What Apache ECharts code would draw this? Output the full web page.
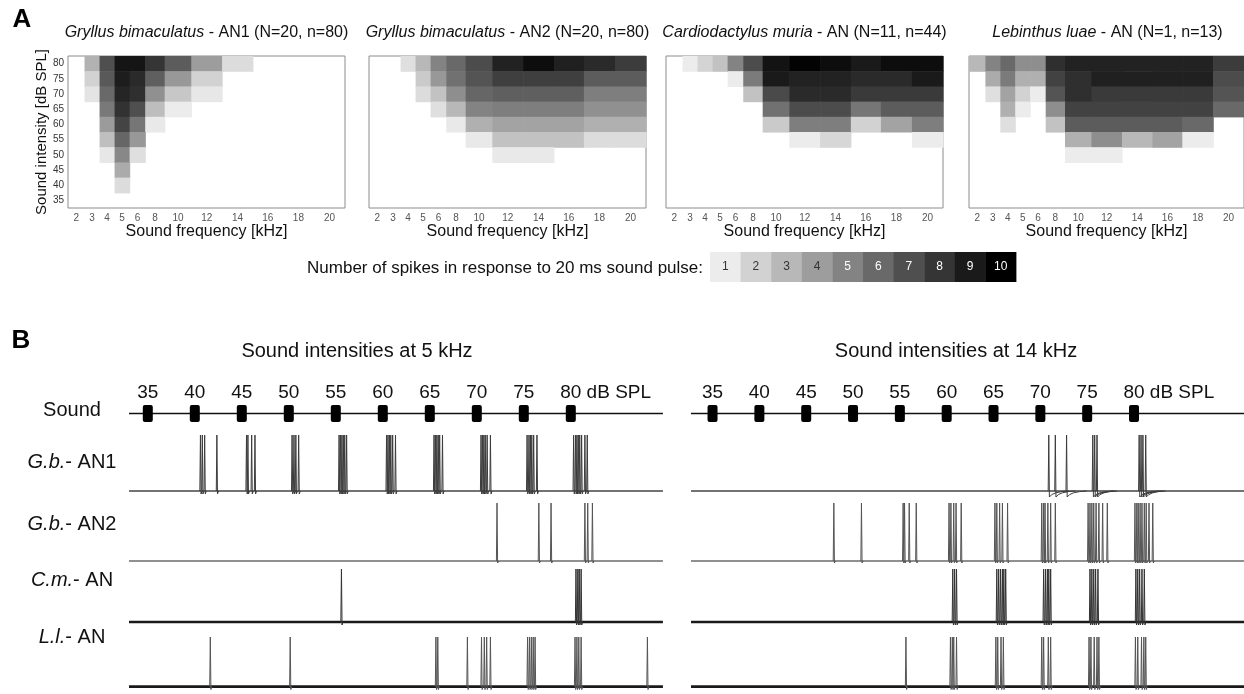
<!DOCTYPE html>
<html><head><meta charset="utf-8">
<script src="https://cdn.jsdelivr.net/npm/echarts@6/dist/echarts.min.js"></script>
<style>html,body{margin:0;padding:0;background:#fff}#c{width:1244px;height:694px}</style>
</head><body><div id="c"></div><script>
// ---------------- DATA ----------------
const freqs = [2,3,4,5,6,8,10,12,14,16,18,20];
const intensities = [35,40,45,50,55,60,65,70,75,80];
// rows from 80 dB (top) down to 35 dB; columns follow freqs
const gbAN1 = [
 [0,3.2,7.0,9.2,9.2,8.0,6.5,4.0,1.6,0,0,0],
 [0,2.0,6.6,8.9,8.4,6.4,4.2,2.0,0,0,0,0],
 [0,1.3,6.0,8.6,8.2,4.5,2.4,1.2,0,0,0,0],
 [0,0,5.4,8.1,7.0,2.8,1.0,0,0,0,0,0],
 [0,0,4.1,7.4,5.5,1.1,0,0,0,0,0,0],
 [0,0,2.7,6.1,4.2,0,0,0,0,0,0,0],
 [0,0,1.2,4.8,1.5,0,0,0,0,0,0,0],
 [0,0,0,3.5,0,0,0,0,0,0,0,0],
 [0,0,0,1.6,0,0,0,0,0,0,0,0],
 [0,0,0,0,0,0,0,0,0,0,0,0]
];
const gbAN2 = [
 [0,0,1.5,3.0,5.0,6.0,7.1,8.7,9.5,8.8,8.4,7.7],
 [0,0,0,2.3,4.2,5.7,6.8,7.6,7.6,7.6,6.5,6.5],
 [0,0,0,1.6,2.6,4.6,6.1,6.4,6.4,6.4,5.2,5.2],
 [0,0,0,0,1.5,3.0,5.0,5.2,5.2,5.2,4.5,4.5],
 [0,0,0,0,0,1.1,3.3,3.8,3.8,3.8,3.3,3.3],
 [0,0,0,0,0,0,1.1,2.6,2.6,2.6,1.6,1.6],
 [0,0,0,0,0,0,0,1.1,1.1,0,0,0],
 [0,0,0,0,0,0,0,0,0,0,0,0],
 [0,0,0,0,0,0,0,0,0,0,0,0],
 [0,0,0,0,0,0,0,0,0,0,0,0]
];
const cmAN = [
 [0,1.0,1.9,2.6,5.0,7.1,9.3,9.9,9.5,9.0,9.5,9.5],
 [0,0,0,0,1.0,5.3,9.0,8.7,8.7,8.4,8.4,9.0],
 [0,0,0,0,0,2.6,7.2,8.4,8.4,7.8,7.8,7.8],
 [0,0,0,0,0,0,5.7,7.1,7.1,5.5,6.5,6.5],
 [0,0,0,0,0,0,2.3,5.2,5.2,2.0,3.8,5.2],
 [0,0,0,0,0,0,0,1.0,1.8,0,0,1.0],
 [0,0,0,0,0,0,0,0,0,0,0,0],
 [0,0,0,0,0,0,0,0,0,0,0,0],
 [0,0,0,0,0,0,0,0,0,0,0,0],
 [0,0,0,0,0,0,0,0,0,0,0,0]
];
const llAN = [
 [3.0,5.0,6.0,4.6,4.6,8.2,8.7,8.7,8.7,8.7,8.7,7.7],
 [0,3.5,5.3,3.3,3.3,7.5,8.2,8.8,8.8,8.8,8.8,7.1],
 [0,1.5,3.8,2.0,1.0,6.8,8.2,7.8,7.8,7.8,7.8,6.8],
 [0,0,3.3,1.0,0,4.6,7.5,7.5,7.5,7.5,7.5,6.0],
 [0,0,1.5,0,0,2.6,6.5,6.5,6.5,6.5,6.0,0],
 [0,0,0,0,0,0,3.3,4.6,3.0,3.8,1.0,0],
 [0,0,0,0,0,0,1.0,1.0,0,0,0,0],
 [0,0,0,0,0,0,0,0,0,0,0,0],
 [0,0,0,0,0,0,0,0,0,0,0,0],
 [0,0,0,0,0,0,0,0,0,0,0,0]
];
const heatTitles = [
 ['Gryllus bimaculatus', ' - AN1 (N=20, n=80)'],
 ['Gryllus bimaculatus', ' - AN2 (N=20, n=80)'],
 ['Cardiodactylus muria', ' - AN (N=11, n=44)'],
 ['Lebinthus luae', ' - AN (N=1, n=13)']
];
const legendLevels = [1,2,3,4,5,6,7,8,9,10];
const legendText = 'Number of spikes in response to 20 ms sound pulse:';

// Panel B: stimulus and recordings (time in ms)
const soundLevels = [35,40,45,50,55,60,65,70,75,80];
const pulseTimes = [40,140,240,340,440,540,640,740,840,940];
const panelHeadings = ['Sound intensities at 5 kHz', 'Sound intensities at 14 kHz'];
const recLeft = [0, 1136];
const recRight = [-6, 1175];
const traceNames = [['G.b.', '- AN1'], ['G.b.', '- AN2'], ['C.m.', '- AN'], ['L.l.', '- AN']];
const spikes5k_GbAN1 = [152,156,161,187, 250,253,261,268, 347,351,355,361, 447,450,453,456,459,463,
  548,551,554,557,561,567, 649,652,655,658,661,667, 749,752,755,758,762,769,
  847,851,854,857,861,868, 946,950,953,956,959,963,970,975];
const spikes5k_GbAN2 = [783,872,898,970,976,986];
const spikes5k_CmAN = [452,951,955,958,962];
const spikes5k_LlAN = [173,343,653,657,720,750,756,761,769,848,852,856,860,864,949,953,957,962,1103];
const spikes14k_GbAN1 = [758,772,796, 852,856,861, 951,955,959,965];
const spikes14k_GbAN2 = [299,358, 447,450,460,475, 545,549,555,560,571, 643,647,653,659,670,
  743,747,750,756,762,772, 842,846,850,854,859,865,873,883, 942,946,949,953,957,962,966,972,980];
const spikes14k_CmAN = [553,557,561, 647,651,655,659,662,666, 747,751,755,758,762, 846,850,854,858,863, 944,948,952,957,962];
const spikes14k_LlAN = [453, 548,552,555,561, 645,649,656,661, 743,747,757,762, 844,848,855,861,865, 943,948,956,961,965];

// ---------------- LAYOUT / STYLE ----------------
const FONT = "'Liberation Sans', Arial, sans-serif";
const colW = [16.5,15,15,15,15.6,19.4,26.6,30.7,30.7,30,31,31];
const heatLeft = [68,369,666,969];
const heatTop = 56, heatW = 277, heatH = 152;
const traceRows = [ // spike top, baseline (px)
  {top:435, base:491, baseColor:'#444', baseW:1.3, spikeColor:'#3c3c3c'},
  {top:503, base:561, baseColor:'#222', baseW:1.2, spikeColor:'#555'},
  {top:569, base:622, baseColor:'#1a1a1a', baseW:2.7, spikeColor:'#333'},
  {top:637, base:689, baseColor:'#1a1a1a', baseW:2.7, spikeColor:'#555'}
];
const panels = [
  {left:129, width:534, rec:recLeft, spikes:[spikes5k_GbAN1,spikes5k_GbAN2,spikes5k_CmAN,spikes5k_LlAN], head:357, ahp:[3,2,3,3]},
  {left:691, width:555, rec:recRight, spikes:[spikes14k_GbAN1,spikes14k_GbAN2,spikes14k_CmAN,spikes14k_LlAN], head:956, ahp:[6,2,3,3]}
];
function greyOf(v){ const g = Math.max(0, Math.round(236 - (v-1)*26.2)); return 'rgb('+g+','+g+','+g+')'; }

const chart = echarts.init(document.getElementById('c'));
const grids=[], xAxes=[], yAxes=[], series=[], graphics=[];

// ---- Panel A heatmaps ----
const edges=[0]; colW.forEach(w=>edges.push(edges[edges.length-1]+w));
const centers = colW.map((w,i)=>(edges[i]+edges[i+1])/2);
[gbAN1, gbAN2, cmAN, llAN].forEach((set,k)=>{
  grids.push({left:heatLeft[k], top:heatTop, width:heatW, height:heatH, show:true, borderColor:'#8c8c8c', borderWidth:1});
  xAxes.push({gridIndex:k, type:'value', min:0, max:edges[edges.length-1],
    splitLine:{show:false}, axisLine:{show:false}, axisTick:{show:false},
    axisLabel:{customValues:centers, fontSize:10, color:'#555', margin:5, fontFamily:FONT,
      formatter:function(v){let b=0; centers.forEach((c,i)=>{ if(Math.abs(c-v)<Math.abs(centers[b]-v)) b=i;}); return String(freqs[b]);}},
    name:'Sound frequency [kHz]', nameLocation:'middle', nameGap:16,
    nameTextStyle:{fontSize:16, color:'#111', fontFamily:FONT}});
  yAxes.push({gridIndex:k, type:'category', data:intensities.map(String),
    axisLine:{show:false}, axisTick:{show:false}, splitLine:{show:false},
    axisLabel:{show:k===0, fontSize:10, color:'#333', margin:4, fontFamily:FONT},
    name: k===0 ? 'Sound intensity [dB SPL]' : '', nameLocation:'middle', nameGap:17,
    nameTextStyle:{fontSize:15, color:'#111', fontFamily:FONT}});
  const data=[];
  set.forEach((row,r)=>row.forEach((v,c)=>{ if(v>0) data.push([c, intensities.length-1-r, v]); }));
  series.push({type:'custom', xAxisIndex:k, yAxisIndex:k, data:data, silent:true,
    renderItem:function(params, api){
      const c=api.value(0), r=api.value(1), v=api.value(2);
      const pa=api.coord([edges[c], r]), pb=api.coord([edges[c+1], r]);
      const h=api.size([0,1])[1];
      return {type:'rect', shape:{x:pa[0], y:pa[1]-h/2, width:pb[0]-pa[0]+0.6, height:h+0.6}, style:{fill:greyOf(v)}};
    }});
  graphics.push({type:'text', x:heatLeft[k]+heatW/2, y:33,
    style:{text:'{i|'+heatTitles[k][0]+'}'+heatTitles[k][1], align:'center', verticalAlign:'middle',
      textAlign:'center', textVerticalAlign:'middle', font:'16px '+FONT, fill:'#111',
      rich:{i:{fontStyle:'italic', fontSize:16, fontFamily:FONT, fill:'#111'}}}});
});

// colour legend
graphics.push({type:'text', x:703, y:268, style:{text:legendText, align:'right', verticalAlign:'middle',
  textAlign:'right', textVerticalAlign:'middle', font:'17px '+FONT, fill:'#111'}});
legendLevels.forEach((lv,i)=>{
  graphics.push({type:'rect', shape:{x:710+i*30.6, y:252, width:31, height:30}, style:{fill:greyOf(lv)}});
  graphics.push({type:'text', x:710+i*30.6+15.3, y:267, style:{text:String(lv), align:'center', verticalAlign:'middle',
    textAlign:'center', textVerticalAlign:'middle', font:'12px '+FONT, fill: lv>=5 ? '#fff' : '#333'}});
});

// panel letters
graphics.push({type:'text', x:22, y:20, style:{text:'A', align:'center', verticalAlign:'middle', textAlign:'center', textVerticalAlign:'middle', font:'bold 26px '+FONT, fill:'#000'}});
graphics.push({type:'text', x:21, y:341, style:{text:'B', align:'center', verticalAlign:'middle', textAlign:'center', textVerticalAlign:'middle', font:'bold 26px '+FONT, fill:'#000'}});

// ---- Panel B ----
let gi = 4;
panels.forEach((P,pi)=>{
  const xmin = P.rec[0], xmax = P.rec[0] + P.width/0.47;
  graphics.push({type:'text', x:P.head, y:351, style:{text:panelHeadings[pi], align:'center', verticalAlign:'middle',
    textAlign:'center', textVerticalAlign:'middle', font:'20px '+FONT, fill:'#111'}});
  // sound row
  grids.push({left:P.left, top:405, width:P.width, height:17});
  xAxes.push({gridIndex:gi, type:'value', min:xmin, max:xmax, show:false});
  yAxes.push({gridIndex:gi, type:'value', min:0, max:1, show:false});
  series.push({type:'line', xAxisIndex:gi, yAxisIndex:gi, data:[[P.rec[0],0.5],[P.rec[1],0.5]], showSymbol:false,
    lineStyle:{color:'#111', width:1.5}, clip:false, silent:true, z:2});
  series.push({type:'custom', xAxisIndex:gi, yAxisIndex:gi, silent:true, z:3, clip:false,
    data:pulseTimes.map((t,i)=>[t, soundLevels[i]]),
    renderItem:function(params, api){
      const t=api.value(0), lv=api.value(1);
      const top=api.coord([t,1]), bot=api.coord([t,0]);
      const last = params.dataIndex === pulseTimes.length-1;
      const children=[{type:'rect', shape:{x:top[0]-5, y:top[1], width:10, height:bot[1]-top[1], r:2}, style:{fill:'#000'}}];
      children.push({type:'text', x: last ? top[0]-10.6 : top[0], y: top[1]-12,
        style:{text: last ? lv+' dB SPL' : String(lv), align: last?'left':'center', verticalAlign:'middle',
          textAlign: last?'left':'center', textVerticalAlign:'middle', font:'19px '+FONT, fill:'#111'}});
      return {type:'group', children:children};
    }});
  if(pi===0) graphics.push({type:'text', x:72, y:410, style:{text:'Sound', align:'center', verticalAlign:'middle',
    textAlign:'center', textVerticalAlign:'middle', font:'20px '+FONT, fill:'#111'}});
  gi++;
  // traces
  traceRows.forEach((R,ri)=>{
    const h = (R.base-R.top)*1.15;
    const dip = P.ahp[ri];
    grids.push({left:P.left, top:R.top, width:P.width, height:h});
    xAxes.push({gridIndex:gi, type:'value', min:xmin, max:xmax, show:false});
    yAxes.push({gridIndex:gi, type:'value', min:-0.15, max:1, show:false});
    series.push({type:'line', xAxisIndex:gi, yAxisIndex:gi, data:[[P.rec[0],0],[P.rec[1],0]], showSymbol:false,
      lineStyle:{color:R.baseColor, width:R.baseW}, clip:false, silent:true, z:2});
    series.push({type:'custom', xAxisIndex:gi, yAxisIndex:gi, silent:true, z:3, clip:false,
      data:P.spikes[ri].map(t=>[t,1]),
      renderItem:function(params, api){
        const t=api.value(0);
        const b=api.coord([t,0]), p=api.coord([t,api.value(1)]);
        const pts=[[b[0]-0.6,b[1]],[p[0],p[1]],[b[0]+0.6,b[1]+dip]];
        if(dip>4){ pts.push([b[0]+3,b[1]+dip*0.6],[b[0]+7,b[1]+dip*0.3],[b[0]+13,b[1]+dip*0.1],[b[0]+20,b[1]]); }
        else { pts.push([b[0]+1.6,b[1]]); }
        return {type:'polyline', shape:{points:pts}, style:{stroke:R.spikeColor, lineWidth:1, fill:null}};
      }});
    if(pi===0) graphics.push({type:'text', x:72, y:[462,524,580,637][ri],
      style:{text:'{i|'+traceNames[ri][0]+'}'+traceNames[ri][1], align:'center', verticalAlign:'middle',
        textAlign:'center', textVerticalAlign:'middle', font:'20px '+FONT, fill:'#111',
        rich:{i:{fontStyle:'italic', fontSize:20, fontFamily:FONT, fill:'#111'}}}});
    gi++;
  });
});

chart.setOption({
  animation:false, backgroundColor:'#fff',
  grid:grids, xAxis:xAxes, yAxis:yAxes, series:series, graphic:{elements:graphics}
});
</script></body></html>
